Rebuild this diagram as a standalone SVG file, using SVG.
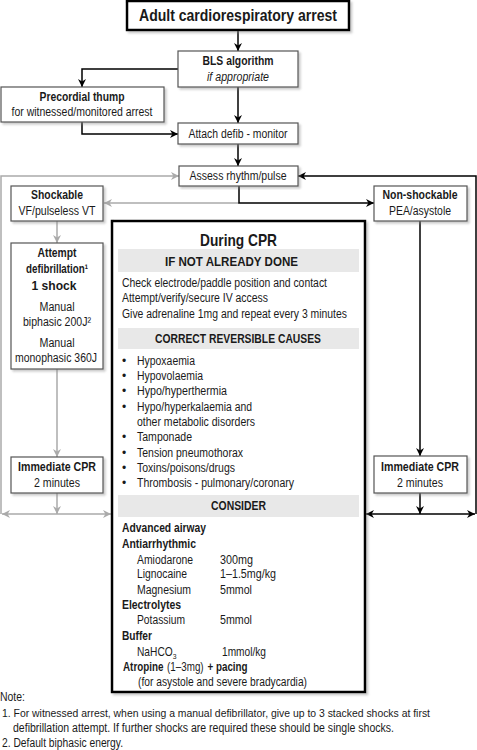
<svg xmlns="http://www.w3.org/2000/svg" width="477" height="750" viewBox="0 0 477 750">
<defs>
<filter id="sh" x="-10%" y="-10%" width="130%" height="130%">
<feDropShadow dx="2" dy="2" stdDeviation="1" flood-color="#888" flood-opacity="0.45"/>
</filter>
<marker id="ab" viewBox="0 0 10 10" refX="10" refY="5" markerWidth="9" markerHeight="8" markerUnits="userSpaceOnUse" orient="auto">
<path d="M0,0 L10,5 L0,10 L3,5 z" fill="#000"/>
</marker>
<marker id="ag" viewBox="0 0 10 10" refX="10" refY="5" markerWidth="9" markerHeight="8" markerUnits="userSpaceOnUse" orient="auto">
<path d="M0,0 L10,5 L0,10 L3,5 z" fill="#aaa"/>
</marker>
</defs>
<style>
text{font-family:"Liberation Sans Narrow","Liberation Sans",Arial,sans-serif;font-size:12px;fill:#1a1a1a}
.b{font-weight:bold}
.i{font-style:italic}
.c{text-anchor:middle}
.box{fill:#fff;stroke:#555;stroke-width:1.2;filter:url(#sh)}
.big{fill:#fff;stroke:#000;stroke-width:2.5;filter:url(#sh)}
.band{fill:#e8e8e8}
.k{fill:none;stroke:#000;stroke-width:1.5}
.g{fill:none;stroke:#aaa;stroke-width:1.5}
</style>

<g id="connectors">
<line class="k" x1="238" y1="30" x2="238" y2="51" marker-end="url(#ab)"/>
<polyline class="k" points="178,69 82,69 82,87" marker-end="url(#ab)"/>
<line class="k" x1="238" y1="87" x2="238" y2="123" marker-end="url(#ab)"/>
<polyline class="k" points="82,122 82,134 178,134" marker-end="url(#ab)"/>
<line class="k" x1="238" y1="144" x2="238" y2="166" marker-end="url(#ab)"/>
<polyline class="g" points="1,514 1,176 179,176" marker-end="url(#ag)"/>
<polyline class="g" points="239,203 104,203" marker-end="url(#ag)"/>
<polyline class="k" points="239,186 239,203 374,203" marker-end="url(#ab)"/>
<polyline class="k" points="476,514 476,176 298,176" marker-end="url(#ab)"/>
<line class="g" x1="57" y1="221" x2="57" y2="243" marker-end="url(#ag)"/>
<line class="g" x1="57" y1="369" x2="57" y2="457" marker-end="url(#ag)"/>
<line class="g" x1="57" y1="493" x2="57" y2="514" marker-end="url(#ag)"/>
<line class="g" x1="57" y1="514" x2="2" y2="514" marker-end="url(#ag)"/>
<line class="g" x1="57" y1="514" x2="111" y2="514" marker-end="url(#ag)"/>
<line class="k" x1="420" y1="221" x2="420" y2="456" marker-end="url(#ab)"/>
<line class="k" x1="420" y1="493" x2="420" y2="514" marker-end="url(#ab)"/>
<line class="k" x1="420" y1="514" x2="366" y2="514" marker-end="url(#ab)"/>
<line class="k" x1="420" y1="514" x2="475" y2="514" marker-end="url(#ab)"/>
</g>

<g id="start">
<rect class="big" x="127" y="1" width="222" height="29"/>
<text class="b c" x="238" y="21" style="font-size:16px" textLength="198" lengthAdjust="spacingAndGlyphs">Adult cardiorespiratory arrest</text>
</g>

<g id="bls">
<rect class="box" x="178" y="51" width="120" height="36"/>
<text class="b c" x="238" y="65" textLength="71" lengthAdjust="spacingAndGlyphs">BLS algorithm</text>
<text class="i c" x="238" y="81" textLength="62" lengthAdjust="spacingAndGlyphs">if appropriate</text>
</g>

<g id="thump">
<rect class="box" x="1" y="87" width="163" height="35"/>
<text class="b c" x="82" y="101" textLength="85" lengthAdjust="spacingAndGlyphs">Precordial thump</text>
<text class="c" x="82" y="116" textLength="141" lengthAdjust="spacingAndGlyphs">for witnessed/monitored arrest</text>
</g>

<g id="attach">
<rect class="box" x="178" y="123" width="120" height="21"/>
<text class="c" x="238" y="138" textLength="99" lengthAdjust="spacingAndGlyphs">Attach defib - monitor</text>
</g>

<g id="assess">
<rect class="box" x="179" y="166" width="119" height="20"/>
<text class="c" x="238" y="180" textLength="97" lengthAdjust="spacingAndGlyphs">Assess rhythm/pulse</text>
</g>

<g id="shockable">
<rect class="box" x="11" y="186" width="92" height="35"/>
<text class="b c" x="57" y="199" textLength="52" lengthAdjust="spacingAndGlyphs">Shockable</text>
<text class="c" x="57" y="215" textLength="77" lengthAdjust="spacingAndGlyphs">VF/pulseless VT</text>
</g>

<g id="nonshockable">
<rect class="box" x="374" y="186" width="93" height="35"/>
<text class="b c" x="420" y="199" textLength="75" lengthAdjust="spacingAndGlyphs">Non-shockable</text>
<text class="c" x="420" y="215" textLength="62" lengthAdjust="spacingAndGlyphs">PEA/asystole</text>
</g>

<g id="defib">
<rect class="box" x="11" y="243" width="92" height="126"/>
<text class="b c" x="57" y="257" textLength="39" lengthAdjust="spacingAndGlyphs">Attempt</text>
<text class="b c" x="57" y="273" textLength="62" lengthAdjust="spacingAndGlyphs">defibrillation¹</text>
<text class="b c" x="54" y="290" style="font-size:13px" textLength="45" lengthAdjust="spacingAndGlyphs">1 shock</text>
<text class="c" x="57" y="311" textLength="35" lengthAdjust="spacingAndGlyphs">Manual</text>
<text class="c" x="57" y="326" textLength="68" lengthAdjust="spacingAndGlyphs">biphasic 200J²</text>
<text class="c" x="57" y="347" textLength="35" lengthAdjust="spacingAndGlyphs">Manual</text>
<text class="c" x="56" y="362" textLength="82" lengthAdjust="spacingAndGlyphs">monophasic 360J</text>
</g>

<g id="cpr-left">
<rect class="box" x="11" y="457" width="92" height="36"/>
<text class="b c" x="57" y="471" textLength="78" lengthAdjust="spacingAndGlyphs">Immediate CPR</text>
<text class="c" x="57" y="487" textLength="46" lengthAdjust="spacingAndGlyphs">2 minutes</text>
</g>

<g id="cpr-right">
<rect class="box" x="374" y="456" width="93" height="37"/>
<text class="b c" x="420" y="471" textLength="78" lengthAdjust="spacingAndGlyphs">Immediate CPR</text>
<text class="c" x="420" y="487" textLength="46" lengthAdjust="spacingAndGlyphs">2 minutes</text>
</g>

<g id="during-cpr">
<rect class="big" x="112" y="221" width="253" height="471"/>
<text class="b c" x="238.5" y="246" style="font-size:17px" textLength="77" lengthAdjust="spacingAndGlyphs">During CPR</text>
<rect class="band" x="118" y="249" width="241" height="23"/>
<text class="b" x="165" y="266" textLength="133" lengthAdjust="spacingAndGlyphs">IF NOT ALREADY DONE</text>
<text x="122" y="287" textLength="205" lengthAdjust="spacingAndGlyphs">Check electrode/paddle position and contact</text>
<text x="122" y="302" textLength="146" lengthAdjust="spacingAndGlyphs">Attempt/verify/secure IV access</text>
<text x="122" y="318" textLength="225" lengthAdjust="spacingAndGlyphs">Give adrenaline 1mg and repeat every 3 minutes</text>
<rect class="band" x="118" y="328" width="241" height="21"/>
<text class="b c" x="238" y="343" textLength="166" lengthAdjust="spacingAndGlyphs">CORRECT REVERSIBLE CAUSES</text>
<text x="122" y="365">•</text>
<text x="137" y="365" textLength="58" lengthAdjust="spacingAndGlyphs">Hypoxaemia</text>
<text x="122" y="380">•</text>
<text x="137" y="380" textLength="66" lengthAdjust="spacingAndGlyphs">Hypovolaemia</text>
<text x="122" y="395">•</text>
<text x="137" y="395" textLength="90" lengthAdjust="spacingAndGlyphs">Hypo/hyperthermia</text>
<text x="122" y="411">•</text>
<text x="137" y="411" textLength="115" lengthAdjust="spacingAndGlyphs">Hypo/hyperkalaemia and</text>
<text x="137" y="426" textLength="118" lengthAdjust="spacingAndGlyphs">other metabolic disorders</text>
<text x="122" y="441">•</text>
<text x="137" y="441" textLength="55" lengthAdjust="spacingAndGlyphs">Tamponade</text>
<text x="122" y="457">•</text>
<text x="137" y="457" textLength="106" lengthAdjust="spacingAndGlyphs">Tension pneumothorax</text>
<text x="122" y="472">•</text>
<text x="137" y="472" textLength="98" lengthAdjust="spacingAndGlyphs">Toxins/poisons/drugs</text>
<text x="122" y="487">•</text>
<text x="137" y="487" textLength="157" lengthAdjust="spacingAndGlyphs">Thrombosis - pulmonary/coronary</text>
<rect class="band" x="118" y="495" width="241" height="22"/>
<text class="b c" x="238.5" y="510" textLength="55" lengthAdjust="spacingAndGlyphs">CONSIDER</text>
<text class="b" x="122" y="532" textLength="84" lengthAdjust="spacingAndGlyphs">Advanced airway</text>
<text class="b" x="122" y="548" textLength="74" lengthAdjust="spacingAndGlyphs">Antiarrhythmic</text>
<text x="137" y="564" textLength="56" lengthAdjust="spacingAndGlyphs">Amiodarone</text>
<text x="220" y="564" textLength="33" lengthAdjust="spacingAndGlyphs">300mg</text>
<text x="137" y="578" textLength="50" lengthAdjust="spacingAndGlyphs">Lignocaine</text>
<text x="220" y="578" textLength="56" lengthAdjust="spacingAndGlyphs">1–1.5mg/kg</text>
<text x="137" y="594" textLength="54" lengthAdjust="spacingAndGlyphs">Magnesium</text>
<text x="220" y="594" textLength="32" lengthAdjust="spacingAndGlyphs">5mmol</text>
<text class="b" x="122" y="609" textLength="59" lengthAdjust="spacingAndGlyphs">Electrolytes</text>
<text x="137" y="624" textLength="48" lengthAdjust="spacingAndGlyphs">Potassium</text>
<text x="220" y="624" textLength="32" lengthAdjust="spacingAndGlyphs">5mmol</text>
<text class="b" x="122" y="640" textLength="30" lengthAdjust="spacingAndGlyphs">Buffer</text>
<g transform="translate(137 656) scale(0.85 1)">
<text x="0" y="0">NaHCO<tspan dy="3" style="font-size:8px">3</tspan></text>
</g>
<text x="222" y="656" textLength="44" lengthAdjust="spacingAndGlyphs">1mmol/kg</text>
<g transform="translate(123 671) scale(0.82 1)">
<text class="b" x="0" y="0">Atropine</text>
<text x="53.7" y="0">(1–3mg)</text>
<text class="b" x="103" y="0">+ pacing</text>
</g>
<text x="138" y="686" textLength="169" lengthAdjust="spacingAndGlyphs">(for asystole and severe bradycardia)</text>
</g>

<g id="notes">
<text x="0" y="701" textLength="25" lengthAdjust="spacingAndGlyphs">Note:</text>
<text x="2" y="717" style="font-size:11px" textLength="428" lengthAdjust="spacingAndGlyphs">1. For witnessed arrest, when using a manual defibrillator, give up to 3 stacked shocks at first</text>
<text x="13" y="732" textLength="381" lengthAdjust="spacingAndGlyphs">defibrillation attempt. If further shocks are required these should be single shocks.</text>
<text x="2" y="747" textLength="121" lengthAdjust="spacingAndGlyphs">2. Default biphasic energy.</text>
</g>
</svg>
